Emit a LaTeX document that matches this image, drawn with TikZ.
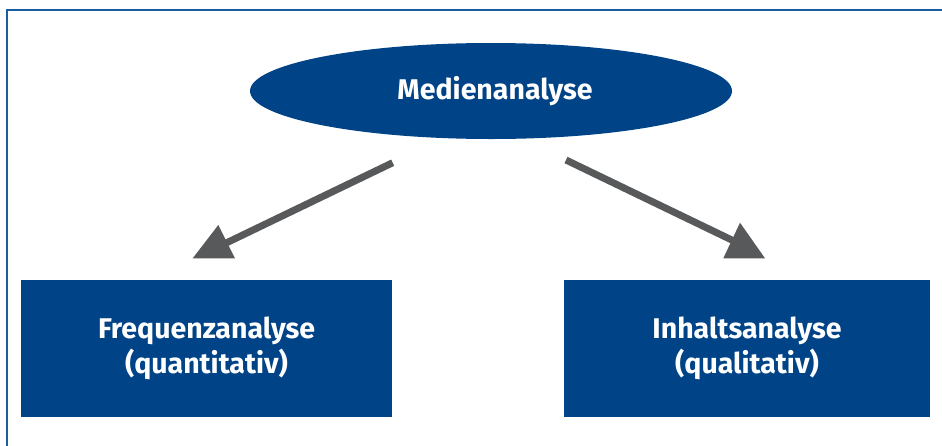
\documentclass[tikz,border=0pt]{standalone}
\usepackage{fontspec}
\setmainfont{Fira Sans}
\usetikzlibrary{shapes.geometric}
\definecolor{boxblue}{RGB}{0,67,135}
\definecolor{frameblue}{RGB}{28,92,162}
\definecolor{arrowgray}{RGB}{88,89,91}
\tikzset{
  box/.style={fill=boxblue, text=white, minimum height=137pt, inner sep=0pt, align=center, font=\fontsize{28.5}{35}\selectfont\bfseries},
  oval/.style={ellipse, fill=boxblue, minimum width=482pt, minimum height=96pt, inner sep=0pt},
  ovaltext/.style={text=white, inner sep=0pt, font=\fontsize{28.5}{35}\selectfont\bfseries},
  conn/.style={draw=arrowgray, line width=7pt},
  tip/.style={fill=arrowgray}
}
\begin{document}
\begin{tikzpicture}[x=1pt,y=-1pt]
\useasboundingbox (0,0) rectangle (942,445);
\clip (0,0) rectangle (942,445);
\draw[frameblue, line width=2pt] (7,9.5) rectangle (970,470);
\node[oval] (top) at (491,91) {};
\node[ovaltext] (toplabel) at (495,91) {Medienanalyse};
\node[box, minimum width=371pt] (left) at (206.5,348.5) {Frequenzanalyse\\(quantitativ)};
\node[box, minimum width=366pt] (right) at (747,348.5) {Inhaltsanalyse\\(qualitativ)};
\coordinate (ls) at (392.7,162.7);
\coordinate (le) at (222,245);
\coordinate (rs) at (566,160);
\coordinate (re) at (738,243);
\draw[conn] (ls) -- (le);
\draw[conn] (rs) -- (re);
\fill[tip] (218.3,225) -- (235,258.3) -- (192.7,258.3) -- cycle;
\fill[tip] (740,222.7) -- (765,258.3) -- (723.3,258.3) -- cycle;
\end{tikzpicture}
\end{document}
